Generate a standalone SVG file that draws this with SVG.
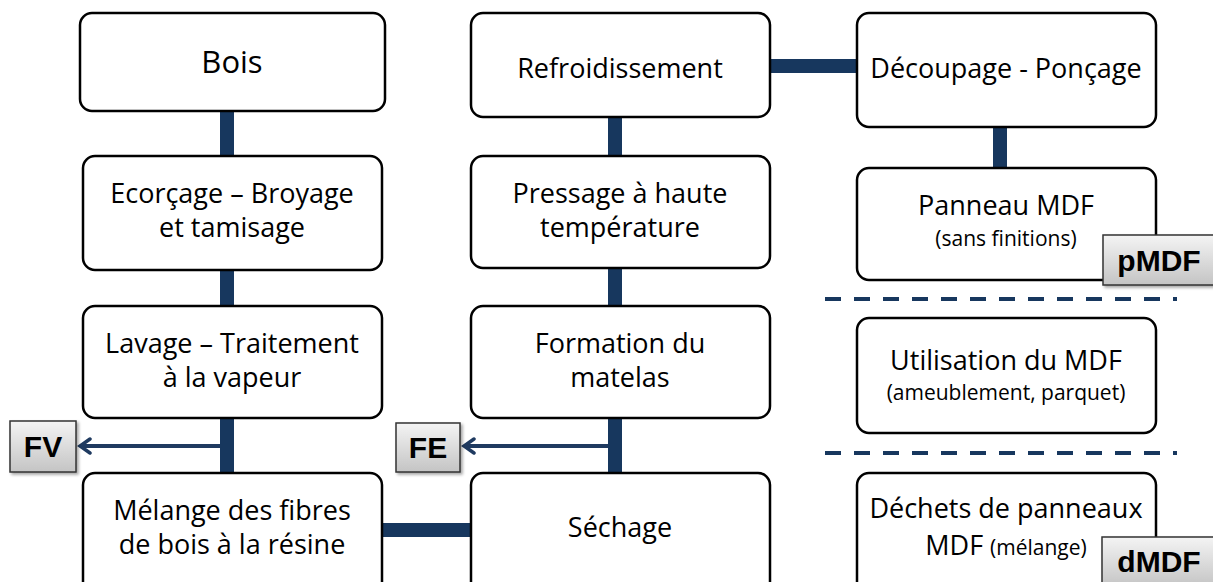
<svg xmlns="http://www.w3.org/2000/svg" width="1213" height="582" viewBox="0 0 1213 582">
<style>
.box{fill:#fff;stroke:#000;stroke-width:2.5}
.t{font-family:"Open Sans","Noto Sans",sans-serif;font-size:27px;fill:#000;text-anchor:middle}
.lab{fill:url(#g);stroke:#333;stroke-width:1.5;filter:url(#sh)}
.lt{font-family:"Liberation Sans",Arial,sans-serif;font-weight:bold;font-size:30px;fill:#000;text-anchor:middle}
.c{stroke:#17375E;stroke-width:14;fill:none}
.arr{stroke:#1F3A60;stroke-width:4;fill:none}
.d{stroke:#17375E;stroke-width:4;stroke-dasharray:16,13;fill:none}
</style>
<defs>
<linearGradient id="g" x1="0" y1="0" x2="0" y2="1"><stop offset="0" stop-color="#f4f4f4"/><stop offset="1" stop-color="#c4c4c4"/></linearGradient>
<filter id="sh" x="-20%" y="-20%" width="150%" height="150%"><feDropShadow dx="2" dy="2" stdDeviation="1.5" flood-color="#000" flood-opacity="0.35"/></filter>
<marker id="ah" markerWidth="16" markerHeight="18" refX="13" refY="9" orient="auto" markerUnits="userSpaceOnUse"><path d="M3,2 L13,9 L3,16" fill="none" stroke="#1F3A60" stroke-width="3.5" stroke-linecap="round"/></marker>
</defs>
<g id="connectors">
<line class="c" x1="227" y1="111" x2="227" y2="156"/>
<line class="c" x1="227" y1="270" x2="227" y2="306"/>
<line class="c" x1="227" y1="418" x2="227" y2="473"/>
<line class="c" x1="382" y1="530" x2="472" y2="530"/>
<line class="c" x1="615" y1="473" x2="615" y2="418"/>
<line class="c" x1="615" y1="306" x2="615" y2="268"/>
<line class="c" x1="615" y1="156" x2="615" y2="117"/>
<line class="c" x1="770" y1="66" x2="858" y2="66"/>
<line class="c" x1="1000" y1="127" x2="1000" y2="168"/>
<path class="arr" d="M220,446 L80,446" marker-end="url(#ah)"/>
<path class="arr" d="M608,446 L464,446" marker-end="url(#ah)"/>
<line class="d" x1="825" y1="299" x2="1177" y2="299"/>
<line class="d" x1="825" y1="453" x2="1177" y2="453"/>
</g>
<g id="bois"><rect class="box" x="80" y="13" width="305" height="98" rx="12"/><text class="t" x="232" y="73" style="font-size:31px">Bois</text></g>
<g id="ecorcage"><rect class="box" x="83" y="156" width="299" height="114" rx="12"/><text class="t" x="232" y="203">Ecorçage – Broyage</text><text class="t" x="232" y="237">et tamisage</text></g>
<g id="lavage"><rect class="box" x="83" y="306" width="299" height="112" rx="12"/><text class="t" x="232" y="353">Lavage – Traitement</text><text class="t" x="232" y="387">à la vapeur</text></g>
<g id="melange"><rect class="box" x="83" y="473" width="299" height="124" rx="12"/><text class="t" x="232" y="520">Mélange des fibres</text><text class="t" x="232" y="554">de bois à la résine</text></g>
<g id="refroid"><rect class="box" x="471" y="13" width="299" height="104" rx="12"/><text class="t" x="620" y="78">Refroidissement</text></g>
<g id="pressage"><rect class="box" x="471" y="156" width="299" height="112" rx="12"/><text class="t" x="620" y="203">Pressage à haute</text><text class="t" x="620" y="237">température</text></g>
<g id="formation"><rect class="box" x="471" y="306" width="299" height="112" rx="12"/><text class="t" x="620" y="353">Formation du</text><text class="t" x="620" y="387">matelas</text></g>
<g id="sechage"><rect class="box" x="471" y="473" width="299" height="124" rx="12"/><text class="t" x="620" y="537">Séchage</text></g>
<g id="decoupage"><rect class="box" x="857" y="13" width="299" height="114" rx="12"/><text class="t" x="1006" y="78">Découpage - Ponçage</text></g>
<g id="panneau"><rect class="box" x="857" y="168" width="299" height="112" rx="12"/><text class="t" x="1006" y="215">Panneau MDF</text><text class="t" x="1006" y="246" style="font-size:21px">(sans finitions)</text></g>
<g id="utilisation"><rect class="box" x="857" y="318" width="299" height="115" rx="12"/><text class="t" x="1006" y="370">Utilisation du MDF</text><text class="t" x="1006" y="400" style="font-size:21px">(ameublement, parquet)</text></g>
<g id="dechets"><rect class="box" x="857" y="473" width="299" height="124" rx="12"/><text class="t" x="1006" y="518">Déchets de panneaux</text><text class="t" x="1006" y="555">MDF <tspan style="font-size:21px">(mélange)</tspan></text></g>
<g id="pmdf"><rect class="lab" x="1103" y="235" width="112" height="50"/><text class="lt" x="1159" y="271">pMDF</text></g>
<g id="dmdf"><rect class="lab" x="1102" y="537" width="113" height="50"/><text class="lt" x="1159" y="572">dMDF</text></g>
<g id="fv"><rect class="lab" x="10" y="421" width="66" height="51"/><text class="lt" x="43" y="457">FV</text></g>
<g id="fe"><rect class="lab" x="396" y="423" width="64" height="49"/><text class="lt" x="428" y="458">FE</text></g>
</svg>
